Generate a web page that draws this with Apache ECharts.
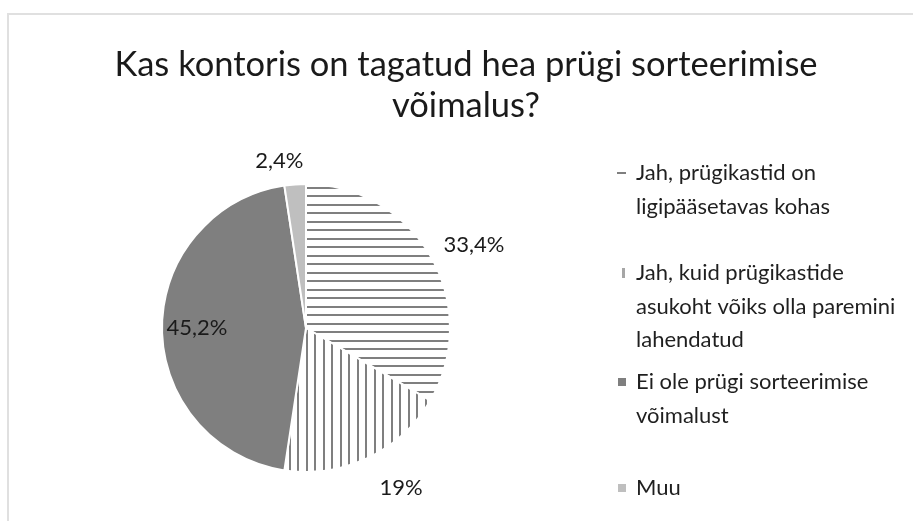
<!DOCTYPE html>
<html>
<head>
<meta charset="utf-8">
<script src="https://cdn.jsdelivr.net/npm/echarts@6/dist/echarts.min.js"></script>
<style>
  body { margin: 0; background: #fff; }
  #frame { position: absolute; left: 7px; top: 13px; width: 940px; height: 540px; border: 2px solid #e0e0e0; box-sizing: border-box; }
  #chart { position: absolute; left: 0; top: 0; width: 913px; height: 521px; }
</style>
</head>
<body>
<div id="frame"></div>
<div id="chart"></div>
<script>
const titleText = 'Kas kontoris on tagatud hea prügi sorteerimise\nvõimalus?';
const categories = [
  'Jah, prügikastid on ligipääsetavas kohas',
  'Jah, kuid prügikastide asukoht võiks olla paremini lahendatud',
  'Ei ole prügi sorteerimise võimalust',
  'Muu'
];
// legend text as it wraps in the picture
const legendLines = [
  'Jah, prügikastid on\nligipääsetavas kohas',
  'Jah, kuid prügikastide\nasukoht võiks olla paremini\nlahendatud',
  'Ei ole prügi sorteerimise\nvõimalust',
  'Muu'
];
const values = [33.4, 19, 45.2, 2.4];

function stripes(horizontal) {
  var c = document.createElement('canvas');
  c.width = 17;
  c.height = 17;
  var g = c.getContext('2d');
  g.fillStyle = '#ffffff';
  g.fillRect(0, 0, 17, 17);
  g.fillStyle = '#7f7f7f';
  if (horizontal) {
    g.fillRect(0, 0, 17, 2);
    g.fillRect(0, 8, 17, 2);
  } else {
    g.fillRect(0, 0, 2, 17);
    g.fillRect(8, 0, 2, 17);
  }
  return c;
}

const fills = [
  { image: stripes(true), repeat: 'repeat' },
  { image: stripes(false), repeat: 'repeat' },
  '#7f7f7f',
  '#bfbfbf'
];
// label tweaks so they sit where the picture has them
const labelPos = [
  { position: 'outside', offset: [-1, -6] },
  { position: 'outside', offset: [2, 21] },
  { position: 'inside', offset: [-34, 0] },
  { position: 'outside', offset: [14, -14] }
];
// legend icons: [left, top, width, height, colour, lines]
const legendBox = [
  [617, 173, 9, 2, '#7f7f7f', 2],
  [622, 273, 3, 10, '#a6a6a6', 3],
  [618, 382, 8, 8, '#7f7f7f', 2],
  [618, 488, 8, 8, '#bfbfbf', 1]
];
const lh = 33.5;

var chart = echarts.init(document.getElementById('chart'));

var legends = [];
for (var i = 0; i < categories.length; i++) {
  const b = legendBox[i];
  const n = b[5];
  legends.push({
    left: b[0],
    top: b[1] - (2 * n - 1) * lh / 2,
    padding: 0,
    orient: 'vertical',
    itemWidth: b[2],
    itemHeight: b[3],
    itemGap: 0,
    selectedMode: false,
    itemStyle: { borderWidth: 0 },
    data: [{ name: categories[i], icon: 'rect', itemStyle: { color: b[4], borderWidth: 0 } }],
    formatter: function (name) {
      var k = categories.indexOf(name);
      var lines = legendLines[k].split('\n').length;
      // blank lines on top keep the first line level with the icon
      return '\n'.repeat(lines - 1) + legendLines[k];
    },
    textStyle: {
      fontFamily: 'Lato',
      fontSize: 22,
      color: '#1f1f1f',
      lineHeight: lh,
      padding: [0, 0, 0, 636 - b[0] - b[2] - 5]
    }
  });
}

var option = {
  animation: false,
  title: {
    text: titleText,
    left: 466,
    top: 44.5,
    padding: 0,
    textAlign: 'center',
    textStyle: {
      fontFamily: 'Lato',
      fontSize: 34.5,
      fontWeight: 'normal',
      color: '#1a1a1a',
      lineHeight: 41
    }
  },
  legend: legends,
  series: [
    {
      type: 'pie',
      center: [306, 328],
      radius: 144,
      startAngle: 90,
      clockwise: true,
      avoidLabelOverlap: false,
      itemStyle: { borderColor: '#ffffff', borderWidth: 2 },
      label: {
        fontFamily: 'Lato',
        fontSize: 22,
        color: '#1a1a1a',
        distanceToLabelLine: 5,
        formatter: function (p) {
          return String(p.value).replace('.', ',') + '%';
        }
      },
      labelLine: { show: false, length: 10, length2: 0 },
      emphasis: { disabled: true },
      data: categories.map(function (name, k) {
        return {
          name: name,
          value: values[k],
          itemStyle: { color: fills[k] },
          label: labelPos[k]
        };
      })
    }
  ]
};

chart.setOption(option);
</script>
</body>
</html>
